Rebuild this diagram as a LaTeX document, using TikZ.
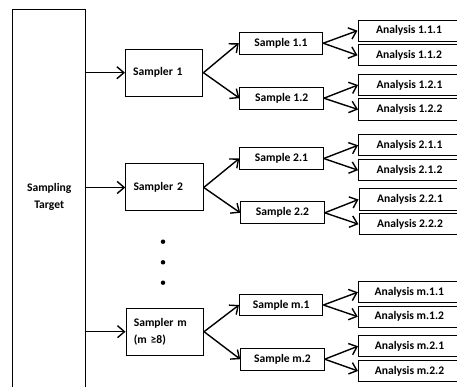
\documentclass[tikz,border=0pt]{standalone}
\usepackage{fontspec}
\setmainfont{Carlito}
\usetikzlibrary{arrows.meta}
\begin{document}
\begin{tikzpicture}[x=1pt,y=-1pt,
  txt/.style={font=\bfseries\fontsize{11.6}{16.5}\selectfont},
  box/.style={draw=black,line width=1pt,inner sep=0pt,txt},
  samplerbox/.style={box,minimum width=77.5pt,minimum height=47pt,align=left,text width=62pt},
  samplebox/.style={box,minimum width=83.5pt,minimum height=21.7pt},
  anabox/.style={box,minimum width=102pt,minimum height=21.3pt},
  conn/.style={line width=1.4pt,-{Straight Barb[length=7pt,width=12pt,line width=1.4pt]}},
  dotmark/.style={circle,fill=black,inner sep=0pt,minimum size=4.5pt}]
\useasboundingbox (0,0) rectangle (457,387);
\clip (0,0) rectangle (457,387);
% sampling target
\node[box,anchor=north,minimum width=73pt,minimum height=386pt,
  label={[align=center,txt,yshift=6pt]center:Sampling\\Target}]
  (target) at (49.2,9.3) {};
% samplers
\node[samplerbox] (s1) at (164.2,72.7) {Sampler 1};
\node[samplerbox] (s2) at (164.5,187.5) {Sampler 2};
\node[samplerbox] (sm) at (164.8,331.7) {Sampler m\\(m ≥8)};
% dots
\node[dotmark] (d1) at (163,241.7) {};
\node[dotmark] (d2) at (163,262.3) {};
\node[dotmark] (d3) at (163,282.7) {};
% samples
\node[samplebox] (p11) at (281,43.2) {Sample 1.1};
\node[samplebox] (p12) at (281.7,98.2) {Sample 1.2};
\node[samplebox] (p21) at (281.5,158.5) {Sample 2.1};
\node[samplebox] (p22) at (282.5,212.8) {Sample 2.2};
\node[samplebox] (pm1) at (281.2,305) {Sample m.1};
\node[samplebox] (pm2) at (282.5,359.2) {Sample m.2};
% analyses
\node[anabox] (a111) at (409,30.7) {Analysis 1.1.1};
\node[anabox] (a112) at (409,55.3) {Analysis 1.1.2};
\node[anabox] (a121) at (409.5,85) {Analysis 1.2.1};
\node[anabox] (a122) at (409.5,109.5) {Analysis 1.2.2};
\node[anabox] (a211) at (409.5,145.3) {Analysis 2.1.1};
\node[anabox] (a212) at (409.5,170.2) {Analysis 2.1.2};
\node[anabox] (a221) at (410,199.5) {Analysis 2.2.1};
\node[anabox] (a222) at (410,224.2) {Analysis 2.2.2};
\node[anabox] (am11) at (409.3,292.2) {Analysis m.1.1};
\node[anabox] (am12) at (409.3,316.7) {Analysis m.1.2};
\node[anabox] (am21) at (409.5,346.2) {Analysis m.2.1};
\node[anabox] (am22) at (409.5,371) {Analysis m.2.2};
% connectors
\foreach \s in {s1,s2,sm} \draw[conn] (target.east |- \s.west) -- (\s.west);
\draw[conn] (s1.east) -- (p11.west);
\draw[conn] (s1.east) -- (p12.west);
\draw[conn] (s2.east) -- (p21.west);
\draw[conn] (s2.east) -- (p22.west);
\draw[conn] (sm.east) -- (pm1.west);
\draw[conn] (sm.east) -- (pm2.west);
\draw[conn] (p11.east) -- (a111.west);
\draw[conn] (p11.east) -- (a112.west);
\draw[conn] (p12.east) -- (a121.west);
\draw[conn] (p12.east) -- (a122.west);
\draw[conn] (p21.east) -- (a211.west);
\draw[conn] (p21.east) -- (a212.west);
\draw[conn] (p22.east) -- (a221.west);
\draw[conn] (p22.east) -- (a222.west);
\draw[conn] (pm1.east) -- (am11.west);
\draw[conn] (pm1.east) -- (am12.west);
\draw[conn] (pm2.east) -- (am21.west);
\draw[conn] (pm2.east) -- (am22.west);
\end{tikzpicture}
\end{document}
